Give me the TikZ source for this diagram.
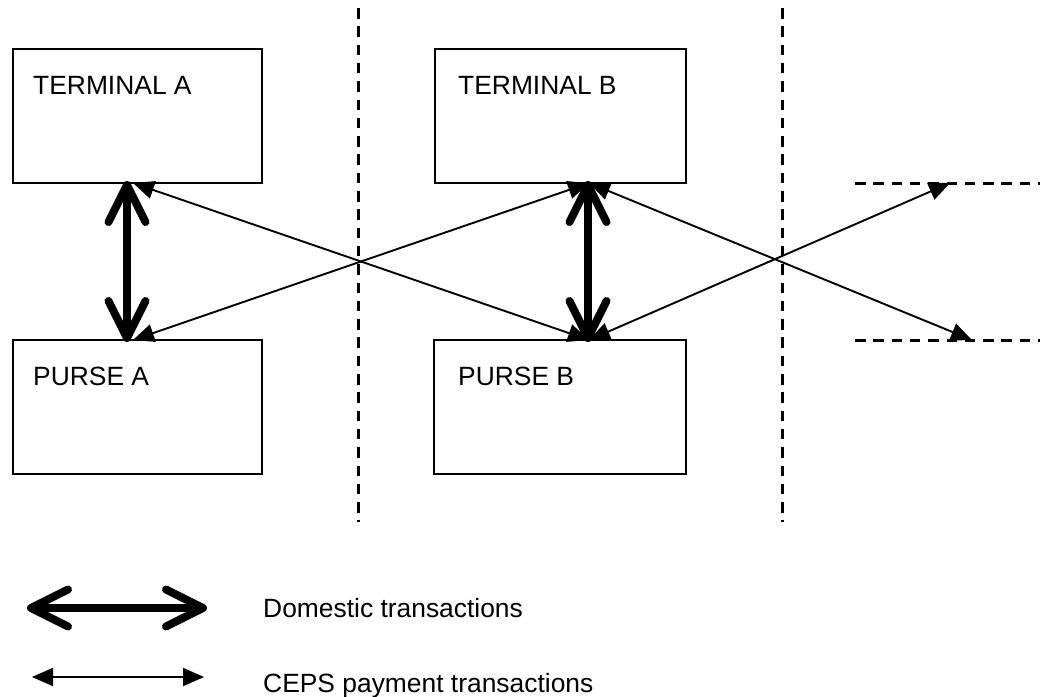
\documentclass[tikz,border=0pt]{standalone}
\usepackage{fontspec}
\setmainfont{Liberation Sans}
\usetikzlibrary{arrows.meta}

\tikzset{
  unitbox/.style={draw, line width=1.8pt, minimum width=249pt, minimum height=134pt,
                  inner sep=0pt, outer sep=0pt, anchor=north west},
  boxtext/.style={anchor=base west, inner sep=0pt, font=\fontsize{26.4}{30}\selectfont},
  domestic/.style={line width=8pt,
                   {Straight Barb[length=37pt,width=37pt,round]}-{Straight Barb[length=37pt,width=37pt,round]}},
  ceps/.style={line width=1.9pt,
               {Triangle[length=21pt,width=18pt]}-{Triangle[length=21pt,width=18pt]}},
  border/.style={line width=3pt, dash pattern=on 10.5pt off 7.8pt}
}

\begin{document}
\begin{tikzpicture}[x=1pt,y=-1pt]
\useasboundingbox (0,0) rectangle (1040,696);

% boundaries between the schemes
\draw[border] (358,8) -- (358,522);
\draw[border] (782,8) -- (782,522);
\coordinate (outT) at (950,183);
\coordinate (outP) at (972,340);
\draw[border] (855,183) -- (1040,183);
\draw[border] (855,340) -- (1040,340);

% terminals and purses
\node[unitbox] (ta) at (13,49) {};
\node[unitbox, minimum width=251pt] (tb) at (435,49) {};
\node[unitbox] (pa) at (13,340) {};
\node[unitbox, minimum width=252pt] (pb) at (434,340) {};

\node[boxtext] (tal) at (33,94) {TERMINAL A};
\node[boxtext] (tbl) at (458,94) {TERMINAL B};
\node[boxtext] (pal) at (33,385) {PURSE A};
\node[boxtext] (pbl) at (458,385) {PURSE B};

% connection points on the box edges
\coordinate (taD) at (127,181);
\coordinate (paD) at (127,342);
\coordinate (tbD) at (588,181);
\coordinate (pbD) at (588,342);
\coordinate (taC) at (133,183);
\coordinate (paC) at (133,340);
\coordinate (tbC) at (589,183);
\coordinate (pbC) at (589,340);

% domestic transactions
\draw[domestic] (taD) -- (paD);
\draw[domestic] (tbD) -- (pbD);

% CEPS payment transactions
\draw[ceps] (taC) -- (pbC);
\draw[ceps] (paC) -- (tbC);
\draw[ceps] (tbC) -- (outP);
\draw[ceps] (pbC) -- (outT);

% legend
\coordinate (l1a) at (27,608);
\coordinate (l1b) at (207,608);
\coordinate (l2a) at (32,677);
\coordinate (l2b) at (204,677);
\draw[domestic] (l1a) -- (l1b);
\draw[ceps] (l2a) -- (l2b);
\node[boxtext] (dom) at (263,617) {Domestic transactions};
\node[boxtext] (cep) at (263,692) {CEPS payment transactions};
\end{tikzpicture}
\end{document}
